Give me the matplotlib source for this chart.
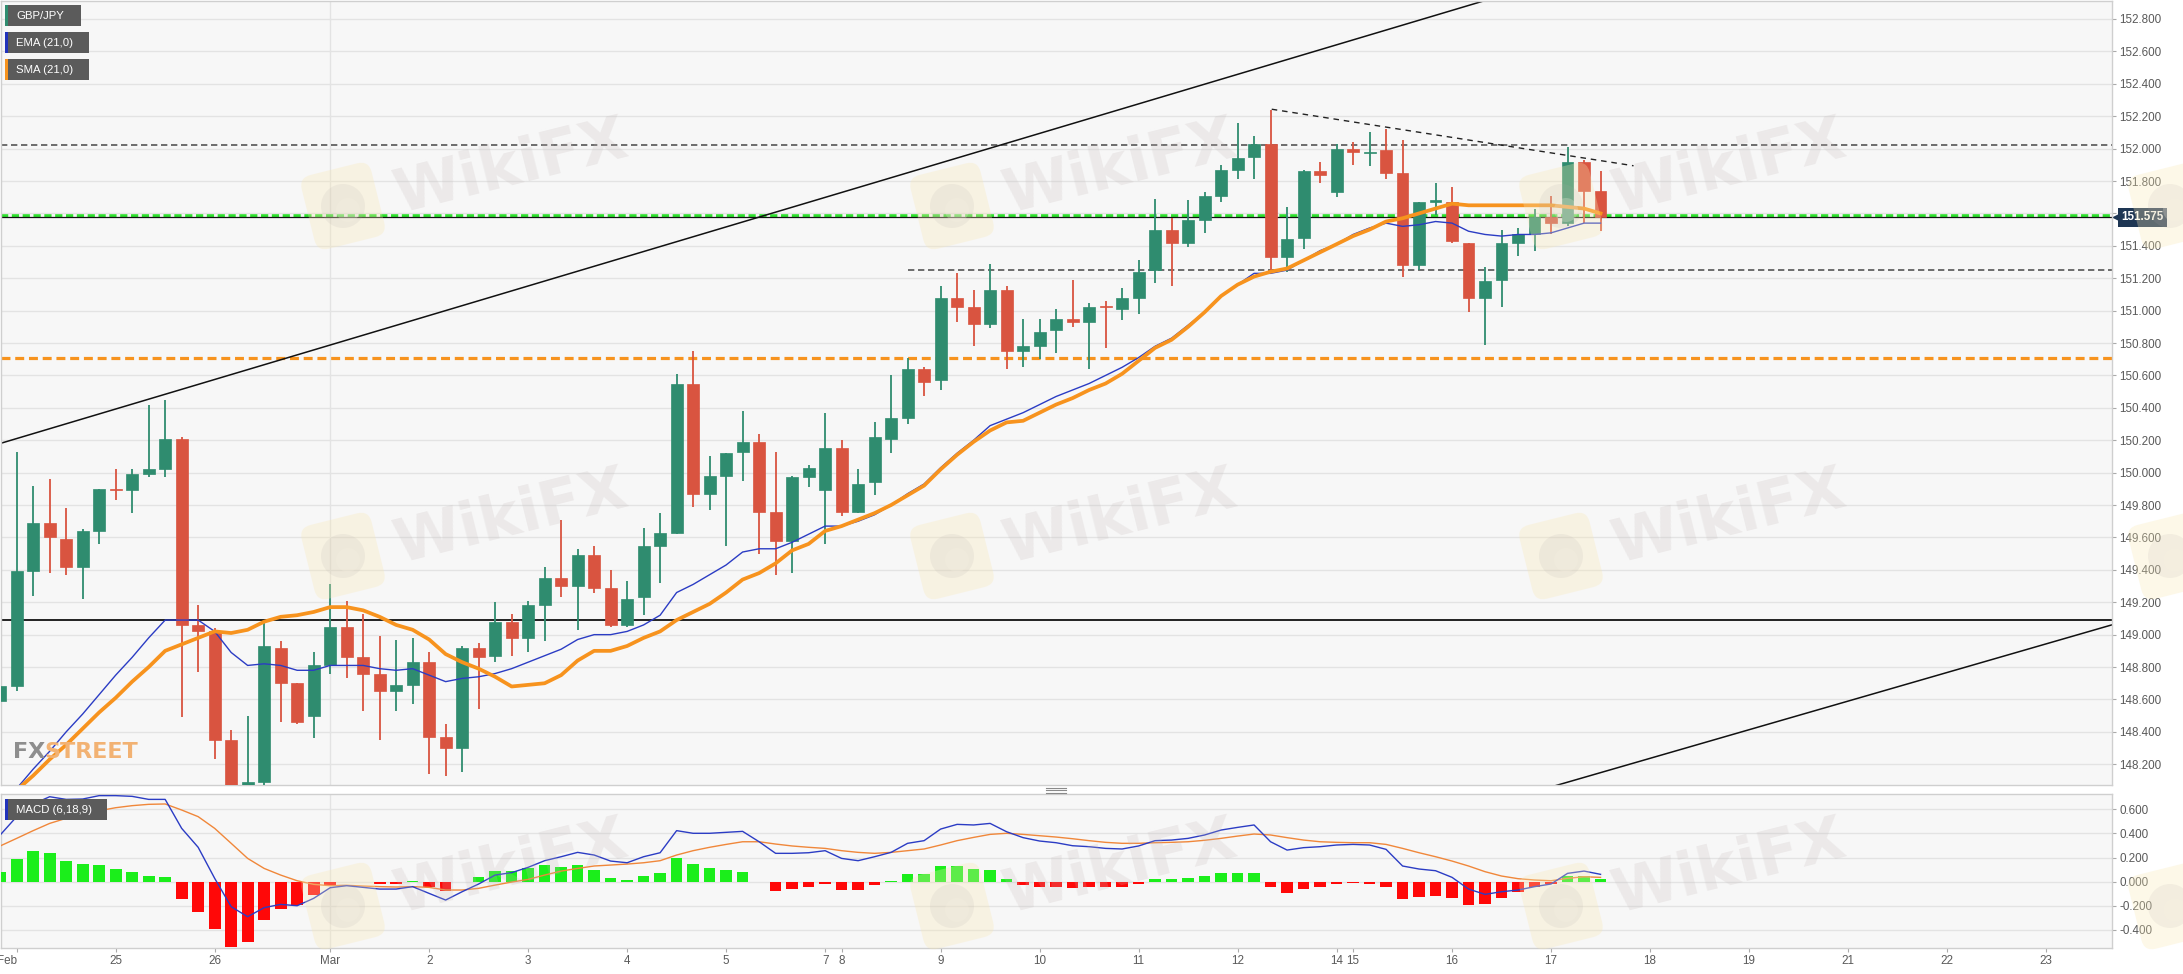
import numpy as np
import matplotlib.pyplot as plt
from matplotlib.patches import Rectangle, FancyBboxPatch, Circle
from matplotlib.transforms import Affine2D, blended_transform_factory

plt.rcParams['font.family'] = ['Liberation Sans', 'DejaVu Sans']

W, H = 2183, 974

# 4H candles, index 0 = Feb 24 00:00 (index -1 is the last Feb 23 bar)
idx = np.arange(-1, 97)

opens = [148.59, 148.68, 149.39, 149.69, 149.59, 149.42, 149.64, 149.90, 149.89, 149.99,
         150.02, 150.21, 149.06, 149.02, 148.35, 148.02, 148.09, 148.92, 148.70, 148.50,
         148.81, 149.05, 148.86, 148.76, 148.65, 148.69, 148.83, 148.37, 148.30, 148.92,
         148.87, 149.08, 148.98, 149.18, 149.35, 149.30, 149.49, 149.29, 149.06, 149.23,
         149.55, 149.63, 150.55, 149.87, 149.98, 150.13, 150.19, 149.76, 149.58, 149.97,
         149.89, 150.15, 149.76, 149.94, 150.21, 150.34, 150.64, 150.57, 151.08, 151.02,
         150.92, 151.13, 150.75, 150.78, 150.88, 150.95, 150.93, 151.03, 151.01, 151.08,
         151.25, 151.50, 151.42, 151.56, 151.71, 151.87, 151.95, 152.03, 151.33, 151.45,
         151.86, 151.73, 152.00, 151.97, 151.99, 151.85, 151.28, 151.67, 151.67, 151.42,
         151.08, 151.19, 151.42, 151.47, 151.58, 151.54, 151.92, 151.74]
highs = [148.70, 150.13, 149.92, 149.96, 149.78, 149.65, 149.90, 150.02, 150.02, 150.42,
         150.45, 150.22, 149.18, 149.04, 148.41, 148.50, 149.07, 148.96, 148.70, 148.89,
         149.31, 149.21, 149.13, 148.99, 148.97, 148.98, 148.89, 148.45, 148.93, 148.95,
         149.20, 149.13, 149.21, 149.42, 149.71, 149.53, 149.55, 149.40, 149.33, 149.66,
         149.75, 150.61, 150.75, 150.10, 150.12, 150.38, 150.24, 150.13, 149.98, 150.05,
         150.37, 150.20, 150.02, 150.31, 150.60, 150.71, 150.65, 151.15, 151.23, 151.13,
         151.29, 151.15, 150.95, 150.95, 151.01, 151.19, 151.05, 151.06, 151.14, 151.31,
         151.69, 151.57, 151.68, 151.73, 151.90, 152.16, 152.08, 152.24, 151.64, 151.87,
         151.92, 152.03, 152.04, 152.10, 152.12, 152.05, 151.67, 151.79, 151.76, 151.42,
         151.27, 151.50, 151.51, 151.63, 151.71, 152.01, 151.93, 151.86]
lows = [148.40, 148.65, 149.24, 149.38, 149.37, 149.22, 149.56, 149.83, 149.75, 149.97,
        149.97, 148.49, 148.77, 148.23, 147.98, 147.98, 148.06, 148.46, 148.45, 148.36,
        148.76, 148.73, 148.53, 148.35, 148.53, 148.57, 148.14, 148.13, 148.15, 148.54,
        148.83, 148.87, 148.89, 148.96, 149.23, 149.03, 149.26, 149.05, 149.05, 149.12,
        149.32, 149.62, 149.79, 149.77, 149.55, 149.95, 149.50, 149.37, 149.38, 149.91,
        149.56, 149.73, 149.75, 149.86, 150.12, 150.30, 150.47, 150.51, 150.93, 150.78,
        150.89, 150.64, 150.65, 150.70, 150.74, 150.90, 150.64, 150.77, 150.94, 150.98,
        151.17, 151.15, 151.39, 151.48, 151.67, 151.81, 151.81, 151.25, 151.24, 151.38,
        151.79, 151.70, 151.90, 151.89, 151.81, 151.21, 151.25, 151.59, 151.42, 150.99,
        150.79, 151.02, 151.34, 151.37, 151.47, 151.52, 151.54, 151.49]
closes = [148.68, 149.39, 149.69, 149.60, 149.42, 149.64, 149.90, 149.89, 149.99, 150.02,
          150.21, 149.06, 149.02, 148.35, 148.04, 148.09, 148.93, 148.70, 148.46, 148.81,
          149.05, 148.86, 148.76, 148.65, 148.69, 148.83, 148.37, 148.30, 148.92, 148.86,
          149.08, 148.98, 149.18, 149.35, 149.30, 149.49, 149.29, 149.06, 149.22, 149.55,
          149.63, 150.55, 149.87, 149.98, 150.12, 150.19, 149.76, 149.58, 149.97, 150.03,
          150.15, 149.76, 149.93, 150.22, 150.34, 150.64, 150.56, 151.08, 151.02, 150.92,
          151.13, 150.75, 150.78, 150.87, 150.95, 150.93, 151.02, 151.02, 151.08, 151.24,
          151.50, 151.42, 151.56, 151.71, 151.87, 151.94, 152.03, 151.33, 151.44, 151.86,
          151.84, 152.00, 151.98, 151.98, 151.85, 151.28, 151.67, 151.68, 151.43, 151.08,
          151.18, 151.42, 151.47, 151.58, 151.54, 151.92, 151.74, 151.575]

ema21 = [147.94, 148.05, 148.17, 148.28, 148.40, 148.51, 148.63, 148.75, 148.86, 148.98,
         149.09, 149.09, 149.09, 149.02, 148.89, 148.81, 148.82, 148.81, 148.78, 148.78,
         148.81, 148.81, 148.81, 148.79, 148.78, 148.79, 148.75, 148.71, 148.73, 148.74,
         148.76, 148.79, 148.83, 148.87, 148.91, 148.97, 149.00, 149.00, 149.02, 149.06,
         149.12, 149.26, 149.31, 149.37, 149.43, 149.51, 149.53, 149.53, 149.57, 149.62,
         149.67, 149.67, 149.70, 149.74, 149.80, 149.87, 149.93, 150.03, 150.12, 150.20,
         150.29, 150.33, 150.37, 150.42, 150.47, 150.51, 150.55, 150.60, 150.65, 150.71,
         150.78, 150.83, 150.91, 150.99, 151.09, 151.16, 151.23, 151.23, 151.25, 151.31,
         151.37, 151.41, 151.47, 151.51, 151.54, 151.52, 151.53, 151.55, 151.54, 151.49,
         151.47, 151.46, 151.47, 151.47, 151.48, 151.51, 151.54, 151.54]
sma21 = [147.94, 148.04, 148.13, 148.23, 148.32, 148.42, 148.52, 148.61, 148.71, 148.80,
         148.90, 148.94, 148.98, 149.02, 149.01, 149.03, 149.08, 149.11, 149.12, 149.14,
         149.17, 149.17, 149.15, 149.11, 149.06, 149.03, 148.97, 148.88, 148.83, 148.79,
         148.74, 148.68, 148.69, 148.70, 148.75, 148.84, 148.90, 148.90, 148.93, 148.98,
         149.02, 149.09, 149.14, 149.19, 149.26, 149.34, 149.38, 149.44, 149.52, 149.56,
         149.64, 149.67, 149.71, 149.75, 149.80, 149.86, 149.92, 150.02, 150.11, 150.19,
         150.26, 150.31, 150.32, 150.37, 150.42, 150.46, 150.51, 150.55, 150.61, 150.69,
         150.77, 150.82, 150.90, 150.99, 151.09, 151.16, 151.21, 151.24, 151.26, 151.31,
         151.36, 151.41, 151.46, 151.50, 151.55, 151.57, 151.60, 151.63, 151.66, 151.65,
         151.65, 151.65, 151.65, 151.65, 151.65, 151.64, 151.63, 151.60]

macd_line = [0.387, 0.539, 0.644, 0.704, 0.682, 0.685, 0.713, 0.713, 0.707, 0.682,
             0.682, 0.442, 0.285, 0.028, -0.207, -0.290, -0.215, -0.188, -0.199, -0.138,
             -0.050, -0.033, -0.047, -0.061, -0.061, -0.041, -0.097, -0.152, -0.083, -0.019,
             0.055, 0.075, 0.119, 0.174, 0.207, 0.243, 0.221, 0.171, 0.157, 0.207,
             0.240, 0.423, 0.401, 0.401, 0.409, 0.417, 0.331, 0.235, 0.235, 0.240,
             0.257, 0.193, 0.174, 0.207, 0.243, 0.318, 0.340, 0.436, 0.475, 0.470,
             0.483, 0.414, 0.365, 0.337, 0.323, 0.298, 0.290, 0.276, 0.271, 0.296,
             0.340, 0.345, 0.359, 0.387, 0.428, 0.450, 0.470, 0.331, 0.262, 0.282,
             0.290, 0.304, 0.309, 0.304, 0.268, 0.130, 0.105, 0.091, 0.036, -0.061,
             -0.105, -0.083, -0.069, -0.041, -0.019, 0.069, 0.088, 0.061]
macd_signal = [0.296, 0.359, 0.423, 0.483, 0.525, 0.561, 0.588, 0.613, 0.630, 0.641,
               0.644, 0.594, 0.539, 0.442, 0.318, 0.193, 0.110, 0.055, 0.008, -0.022,
               -0.033, -0.030, -0.036, -0.041, -0.044, -0.041, -0.047, -0.069, -0.069, -0.055,
               -0.028, -0.003, 0.019, 0.055, 0.088, 0.110, 0.130, 0.138, 0.146, 0.157,
               0.174, 0.221, 0.257, 0.285, 0.309, 0.331, 0.331, 0.312, 0.296, 0.285,
               0.276, 0.257, 0.243, 0.235, 0.243, 0.257, 0.271, 0.304, 0.340, 0.367,
               0.392, 0.401, 0.392, 0.381, 0.370, 0.356, 0.340, 0.326, 0.318, 0.318,
               0.323, 0.326, 0.331, 0.343, 0.359, 0.378, 0.395, 0.387, 0.365, 0.345,
               0.331, 0.326, 0.323, 0.323, 0.309, 0.276, 0.240, 0.207, 0.171, 0.130,
               0.083, 0.047, 0.025, 0.014, 0.008, 0.028, 0.041, 0.036]
macd_hist = [0.083, 0.185, 0.254, 0.240, 0.174, 0.144, 0.135, 0.108, 0.080, 0.047,
             0.039, -0.146, -0.254, -0.390, -0.539, -0.500, -0.318, -0.227, -0.196, -0.110,
             -0.025, -0.004, -0.002, -0.019, -0.017, 0.006, -0.047, -0.077, -0.003, 0.036,
             0.086, 0.086, 0.113, 0.135, 0.122, 0.135, 0.097, 0.030, 0.014, 0.047,
             0.069, 0.199, 0.146, 0.113, 0.097, 0.083, -0.002, -0.075, -0.061, -0.044,
             -0.019, -0.069, -0.069, -0.028, 0.006, 0.064, 0.064, 0.130, 0.133, 0.102,
             0.097, 0.022, -0.025, -0.041, -0.047, -0.050, -0.047, -0.047, -0.041, -0.019,
             0.019, 0.019, 0.030, 0.047, 0.069, 0.075, 0.075, -0.044, -0.094, -0.058,
             -0.044, -0.019, -0.014, -0.017, -0.044, -0.141, -0.130, -0.116, -0.138, -0.191,
             -0.185, -0.133, -0.086, -0.041, -0.019, 0.047, 0.050, 0.025]

# date axis
date_idx = [0, 6, 12, 19, 25, 31, 37, 43, 49, 50, 56, 62, 68, 74, 80, 81, 87, 93,
            99, 105, 111, 117, 123]
date_labels = ['Feb', '25', '26', 'Mar', '2', '3', '4', '5', '7', '8', '9', '10', '11',
               '12', '14', '15', '16', '17', '18', '19', '21', '22', '23']
price_ticks = [148.2, 148.4, 148.6, 148.8, 149.0, 149.2, 149.4, 149.6, 149.8, 150.0,
               150.2, 150.4, 150.6, 150.8, 151.0, 151.2, 151.4, 151.6, 151.8, 152.0,
               152.2, 152.4, 152.6, 152.8]
macd_ticks = [-0.4, -0.2, 0.0, 0.2, 0.4, 0.6]

# drawn levels and trendlines
last_price = 151.575
green_level = 151.585
res_level = 152.02
sup_level = 151.25
sup_start = 54
orange_level = 150.71
black_level = 149.09
upper_channel = ([-1.0, 89.2], [150.18, 152.92])
lower_channel = ([93.0, 128.0], [148.06, 149.09])
lower_highs = ([76.07, 98.0], [152.243, 151.894])

GREEN, RED = '#2f8c6f', '#d95440'
BG = '#f7f7f7'


def fx(px):
    return px / W


def fy(py):
    return 1 - py / H


fig = plt.figure(figsize=(W / 100, H / 100), dpi=100)
fig.patch.set_facecolor('white')

ax = fig.add_axes([fx(1), fy(785), fx(2112) - fx(1), fy(1) - fy(785)])
axm = fig.add_axes([fx(1), fy(948.3), fx(2112) - fx(1), fy(794) - fy(948.3)])

for a in (ax, axm):
    a.set_facecolor(BG)
    a.set_xlim(-0.95, 127.0)
    for s in a.spines.values():
        s.set_color('#cfcfcf')
        s.set_linewidth(1)
    a.yaxis.tick_right()
    a.tick_params(axis='y', length=3, color='#aaaaaa', labelcolor='#5a5a5a',
                  labelsize=8.4, pad=2.5)
    a.grid(axis='y', color='#e3e3e3', lw=1)
    a.set_axisbelow(True)
    a.axvline(date_idx[3], color='#e3e3e3', lw=1, zorder=0)

# ---- price panel
ax.set_ylim(148.072, 152.911)
ax.set_yticks(price_ticks)
ax.set_yticklabels([f'{v:.3f}' for v in price_ticks])
ax.tick_params(axis='x', bottom=False, labelbottom=False)

o = np.array(opens)
c = np.array(closes)
cols = [GREEN if cc >= oo else RED for oo, cc in zip(o, c)]
body_lo = np.minimum(o, c)
body_h = np.maximum(np.abs(c - o), 0.008)
ax.vlines(idx, lows, highs, colors=cols, lw=1.3, zorder=3)
ax.bar(idx, body_h, bottom=body_lo, width=0.72, color=cols, edgecolor=cols,
       lw=0.5, zorder=4)

ax.plot(idx, ema21, color='#2b3cc4', lw=1.0, zorder=5)
ax.plot(idx, sma21, color='#f7931e', lw=2.7, zorder=5)

ax.axhline(res_level, color='#555555', lw=1.2, ls=(0, (3.8, 2.2)), zorder=2)
ax.plot([sup_start, 127.0], [sup_level, sup_level], color='#555555', lw=1.2,
        ls=(0, (3.8, 2.2)), zorder=2)
ax.axhline(orange_level, color='#f7931e', lw=2.3, ls=(0, (2.8, 1.5)), zorder=2)
ax.axhline(black_level, color='#111111', lw=1.3, zorder=2)
ax.axhline(green_level, color='#2ee02e', lw=2.6, ls=(0, (2.0, 1.0)), zorder=2)
ax.axhline(last_price, color='#111111', lw=0.9, zorder=2)
ax.plot(*upper_channel, color='#111111', lw=1.1, zorder=2)
ax.plot(*lower_channel, color='#111111', lw=1.1, zorder=2)
ax.plot(*lower_highs, color='#222222', lw=1.0, ls=(0, (4, 3.5)), zorder=2)

btr = blended_transform_factory(ax.transAxes, ax.transData)
ax.text(1.0045, last_price, f'{last_price:.3f}', transform=btr, ha='left', va='center',
        color='white', fontsize=8.4, fontweight='bold', zorder=20, clip_on=False,
        bbox=dict(boxstyle='square,pad=0.28', fc='#1e3654', ec='none'))
ax.plot([1.002], [last_price], marker='<', ms=5, color='#1e3654', transform=btr,
        clip_on=False, zorder=20)

# ---- MACD panel
axm.set_ylim(-0.5518, 0.7266)
axm.set_yticks(macd_ticks)
axm.set_yticklabels([f'{v:.3f}' for v in macd_ticks])
hcols = ['#1bee1b' if v >= 0 else '#ff0808' for v in macd_hist]
axm.bar(idx, macd_hist, width=0.71, color=hcols, zorder=3)
axm.plot(idx, macd_signal, color='#f0873a', lw=1.0, zorder=4)
axm.plot(idx, macd_line, color='#2b3cc4', lw=1.0, zorder=5)
axm.set_xticks(date_idx)
axm.set_xticklabels(date_labels)
axm.tick_params(axis='x', length=3, color='#aaaaaa', labelcolor='#5a5a5a',
                labelsize=8.4, pad=2)
axm.get_xticklabels()[0].set_ha('right')

# ---- overlay in pixel space for labels, logo and watermarks
ov = fig.add_axes([0, 0, 1, 1], zorder=10)
ov.set_xlim(0, W)
ov.set_ylim(H, 0)
ov.axis('off')


def label_box(x0, y0, w, h, text, strip):
    ov.add_patch(Rectangle((x0, y0), w, h, fc='#5b5b5b', ec='none'))
    ov.add_patch(Rectangle((x0, y0), 2.5, h, fc=strip, ec='none'))
    ov.text(x0 + 11, y0 + h / 2 + 0.5, text, color='white', fontsize=8.2,
            ha='left', va='center')


label_box(5, 5, 76, 20.7, 'GBP/JPY', GREEN)
label_box(5, 32, 83.6, 21, 'EMA (21,0)', '#2233bb')
label_box(5, 59, 83.6, 21, 'SMA (21,0)', '#f7931e')
label_box(5, 799, 101.7, 21, 'MACD (6,18,9)', '#2233bb')

# panel resize handle
for yy in (787.5, 790, 792.5):
    ov.plot([1046, 1066], [yy, yy], color='#8a8a8a', lw=0.8)

# FXSTREET mark
ov.text(13, 752, 'FX', color='#8e8e8e', fontsize=16, fontweight='bold',
        family='DejaVu Sans', ha='left', va='center')
ov.text(44, 752, 'STREET', color='#f2b273', fontsize=16, fontweight='bold',
        family='DejaVu Sans', ha='left', va='center')

# WikiFX watermarks (text only where it fits inside the picture)
for cx in (511, 1120, 1729, 2338):
    for cy in (168, 518, 868):
        if cx < 2000:
            ov.text(cx, cy, 'WikiFX', rotation=14, ha='center', va='center',
                    fontsize=44, fontweight='bold', family='DejaVu Sans',
                    color='#c4baba', alpha=0.22, rotation_mode='anchor')
        lx, ly = cx - 168, cy + 38
        tr = Affine2D().rotate_deg_around(lx, ly, -14) + ov.transData
        ov.add_patch(FancyBboxPatch((lx - 36, ly - 38), 72, 76,
                                    boxstyle='round,pad=0,rounding_size=12',
                                    fc='#f9e9b4', ec='none', alpha=0.3,
                                    transform=tr))
        ov.add_patch(Circle((lx, ly), 22, fc='#b0a8a8', ec='none', alpha=0.13))
        ov.add_patch(Circle((lx + 5, ly + 4), 12, fc='#f7f1e2', ec='none', alpha=0.25))

fig.savefig('out.png', dpi=100)
